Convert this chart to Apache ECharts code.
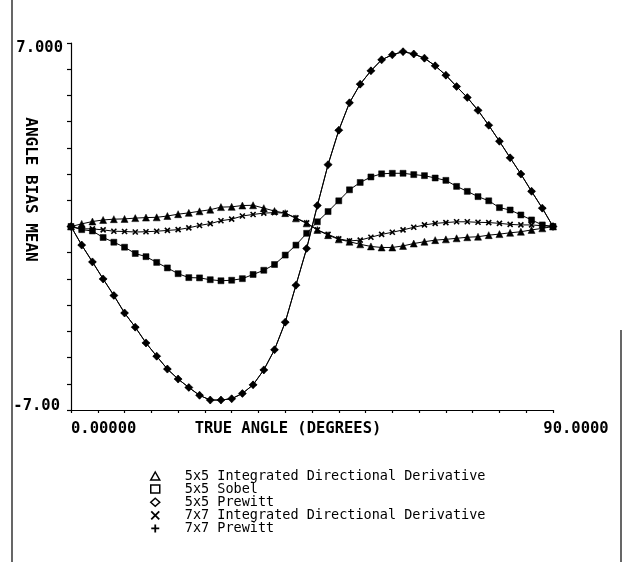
<!DOCTYPE html>
<html>
<head>
<meta charset="utf-8">
<script src="https://cdn.jsdelivr.net/npm/echarts@6/dist/echarts.min.js"></script>
<style>
  html, body { margin: 0; padding: 0; background: #fff; }
  #chart { width: 623px; height: 562px; }
</style>
</head>
<body>
<div id="chart"></div>
<script>
// True angle (degrees) at which each estimator was evaluated
const angles = [0, 2, 4, 6, 8, 10, 12, 14, 16, 18, 20, 22, 24, 26, 28, 30, 32, 34, 36, 38, 40, 42, 44,
                46, 48, 50, 52, 54, 56, 58, 60, 62, 64, 66, 68, 70, 72, 74, 76, 78, 80, 82, 84, 86, 88, 90];

// Mean angle bias for each operator
const idd5 = [0, 0.10, 0.19, 0.25, 0.28, 0.29, 0.32, 0.34, 0.35, 0.40, 0.47, 0.52, 0.58, 0.64, 0.74, 0.75, 0.80, 0.81,
              0.70, 0.59, 0.51, 0.31, 0.12, -0.13, -0.33, -0.49, -0.58, -0.68, -0.76, -0.80, -0.80, -0.74, -0.65,
              -0.58, -0.52, -0.49, -0.45, -0.41, -0.39, -0.33, -0.29, -0.24, -0.20, -0.13, -0.07, 0];
const sobel5 = [0, -0.12, -0.17, -0.42, -0.60, -0.79, -1.03, -1.15, -1.37, -1.58, -1.80, -1.95, -1.96, -2.03, -2.07,
                -2.05, -1.99, -1.83, -1.67, -1.45, -1.09, -0.71, -0.26, 0.18, 0.57, 0.98, 1.40, 1.68, 1.89, 2.01,
                2.03, 2.03, 1.98, 1.94, 1.85, 1.76, 1.53, 1.34, 1.14, 0.98, 0.72, 0.63, 0.44, 0.25, 0.06, 0];
const prewitt5 = [0, -0.71, -1.35, -2.00, -2.63, -3.30, -3.84, -4.44, -4.95, -5.44, -5.82, -6.14, -6.44, -6.62, -6.62,
                  -6.57, -6.37, -6.04, -5.47, -4.70, -3.65, -2.24, -0.84, 0.80, 2.36, 3.67, 4.72, 5.43, 5.94, 6.36,
                  6.55, 6.67, 6.58, 6.42, 6.13, 5.77, 5.34, 4.92, 4.43, 3.86, 3.25, 2.62, 2.00, 1.34, 0.70, 0];
const idd7 = [0, -0.09, -0.09, -0.13, -0.18, -0.19, -0.21, -0.20, -0.18, -0.15, -0.12, -0.05, 0.04, 0.11, 0.22,
              0.28, 0.40, 0.46, 0.51, 0.53, 0.51, 0.33, 0.14, -0.13, -0.30, -0.47, -0.55, -0.52, -0.41, -0.30,
              -0.22, -0.13, -0.03, 0.06, 0.12, 0.15, 0.18, 0.18, 0.16, 0.15, 0.12, 0.08, 0.06, 0.06, 0.03, 0];
const prewitt7 = [0, -0.71, -1.35, -2.00, -2.63, -3.30, -3.84, -4.44, -4.95, -5.44, -5.82, -6.14, -6.44, -6.62, -6.62,
                  -6.57, -6.37, -6.04, -5.47, -4.70, -3.65, -2.24, -0.84, 0.80, 2.36, 3.67, 4.72, 5.43, 5.94, 6.36,
                  6.55, 6.67, 6.58, 6.42, 6.13, 5.77, 5.34, 4.92, 4.43, 3.86, 3.25, 2.62, 2.00, 1.34, 0.70, 0];

const seriesNames = [
  '5x5 Integrated Directional Derivative',
  '5x5 Sobel',
  '5x5 Prewitt',
  '7x7 Integrated Directional Derivative',
  '7x7 Prewitt'
];

// Axis end labels
const yTopLabel = '7.000';
const yBottomLabel = '-7.00';
const xStartLabel = '0.00000';
const xEndLabel = '90.0000';

const INK = '#000';
const MONO = "'DejaVu Sans Mono', 'Liberation Mono', monospace";
const CROSS = 'path://M0,0L10,10M10,0L0,10';
const PLUS = 'path://M5,0L5,10M0,5L10,5';

const pairs = vals => angles.map((a, i) => [a, vals[i]]);

function lineSeries(name, vals, symbol, size, stroked) {
  return {
    name: name,
    type: 'line',
    data: pairs(vals),
    symbol: symbol,
    symbolSize: size,
    showSymbol: true,
    lineStyle: { color: INK, width: 1 },
    itemStyle: stroked
      ? { color: INK, borderColor: INK, borderWidth: 1.6 }
      : { color: INK, borderColor: INK, borderWidth: 0.5 },
    emphasis: { disabled: true },
    animation: false
  };
}

const chart = echarts.init(document.getElementById('chart'), null, { renderer: 'canvas' });

chart.setOption({
  backgroundColor: '#fff',
  animation: false,
  grid: { left: 71, right: 70, top: 43, bottom: 152, containLabel: false, outerBoundsMode: 'none' },
  legend: {
    orient: 'vertical',
    left: 145,
    top: 464,
    itemWidth: 9,
    itemHeight: 8,
    itemGap: -0.9,
    selectedMode: false,
    textStyle: { fontFamily: MONO, fontSize: 13.5, color: INK, lineHeight: 12, padding: [0, 0, 0, 20] },
    data: [
      { name: seriesNames[0], icon: 'triangle', itemStyle: { color: '#fff', borderColor: INK, borderWidth: 1.5 } },
      { name: seriesNames[1], icon: 'rect', itemStyle: { color: '#fff', borderColor: INK, borderWidth: 1.5 } },
      { name: seriesNames[2], icon: 'diamond', itemStyle: { color: '#fff', borderColor: INK, borderWidth: 1.5 } },
      { name: seriesNames[3], icon: CROSS, itemStyle: { color: '#fff', borderColor: INK, borderWidth: 1.8 } },
      { name: seriesNames[4], icon: PLUS, itemStyle: { color: '#fff', borderColor: INK, borderWidth: 1.8 } }
    ]
  },
  xAxis: {
    type: 'value',
    min: 0,
    max: 90,
    interval: 5,
    name: 'TRUE ANGLE (DEGREES)',
    nameLocation: 'middle',
    nameGap: 11,
    nameMoveOverlap: false,
    nameTextStyle: { fontFamily: MONO, fontWeight: 'bold', fontSize: 15.5, color: INK, padding: [0, 48, 0, 0] },
    axisLine: { show: true, onZero: false, lineStyle: { color: INK, width: 1.2 } },
    axisTick: { show: true, length: 3, lineStyle: { color: INK, width: 1.2 } },
    splitLine: { show: false },
    axisLabel: {
      margin: 11,
      alignMinLabel: 'left',
      hideOverlap: false,
      formatter: v => v === 0 ? '{l|' + xStartLabel + '}' : v === 90 ? '{r|' + xEndLabel + '}' : '',
      rich: {
        l: { fontFamily: MONO, fontWeight: 'bold', fontSize: 15.5, color: INK },
        r: { fontFamily: MONO, fontWeight: 'bold', fontSize: 15.5, color: INK, padding: [0, 0, 0, 46] }
      }
    }
  },
  yAxis: {
    type: 'value',
    min: -7,
    max: 7,
    interval: 1,
    name: 'ANGLE BIAS MEAN',
    nameLocation: 'middle',
    nameRotate: -90,
    nameGap: 33,
    nameMoveOverlap: false,
    nameTextStyle: { fontFamily: MONO, fontWeight: 'bold', fontSize: 16, color: INK, padding: [0, 74, 0, 0] },
    axisLine: { show: true, onZero: false, lineStyle: { color: INK, width: 1.2 } },
    axisTick: { show: true, length: 4, lineStyle: { color: INK, width: 1.2 } },
    splitLine: { show: false },
    axisLabel: {
      margin: 8,
      hideOverlap: false,
      formatter: v => v === 7 ? '{t|' + yTopLabel + '}' : v === -7 ? '{b|' + yBottomLabel + '}' : '',
      rich: {
        t: { fontFamily: MONO, fontWeight: 'bold', fontSize: 15.5, color: INK, padding: [10, 0, 0, 0] },
        b: { fontFamily: MONO, fontWeight: 'bold', fontSize: 15.5, color: INK, padding: [0, 3, 8, 0] }
      }
    }
  },
  graphic: [
    { type: 'line', shape: { x1: 12, y1: 0, x2: 12, y2: 562 }, style: { stroke: INK, lineWidth: 1.2 }, silent: true },
    { type: 'line', shape: { x1: 621, y1: 330, x2: 621, y2: 562 }, style: { stroke: INK, lineWidth: 1.2 }, silent: true }
  ],
  series: [
    lineSeries(seriesNames[0], idd5, 'triangle', 7, false),
    lineSeries(seriesNames[1], sobel5, 'rect', 6, false),
    lineSeries(seriesNames[2], prewitt5, 'diamond', 8, false),
    lineSeries(seriesNames[3], idd7, CROSS, 5, true),
    lineSeries(seriesNames[4], prewitt7, PLUS, 7, true)
  ]
});
</script>
</body>
</html>
